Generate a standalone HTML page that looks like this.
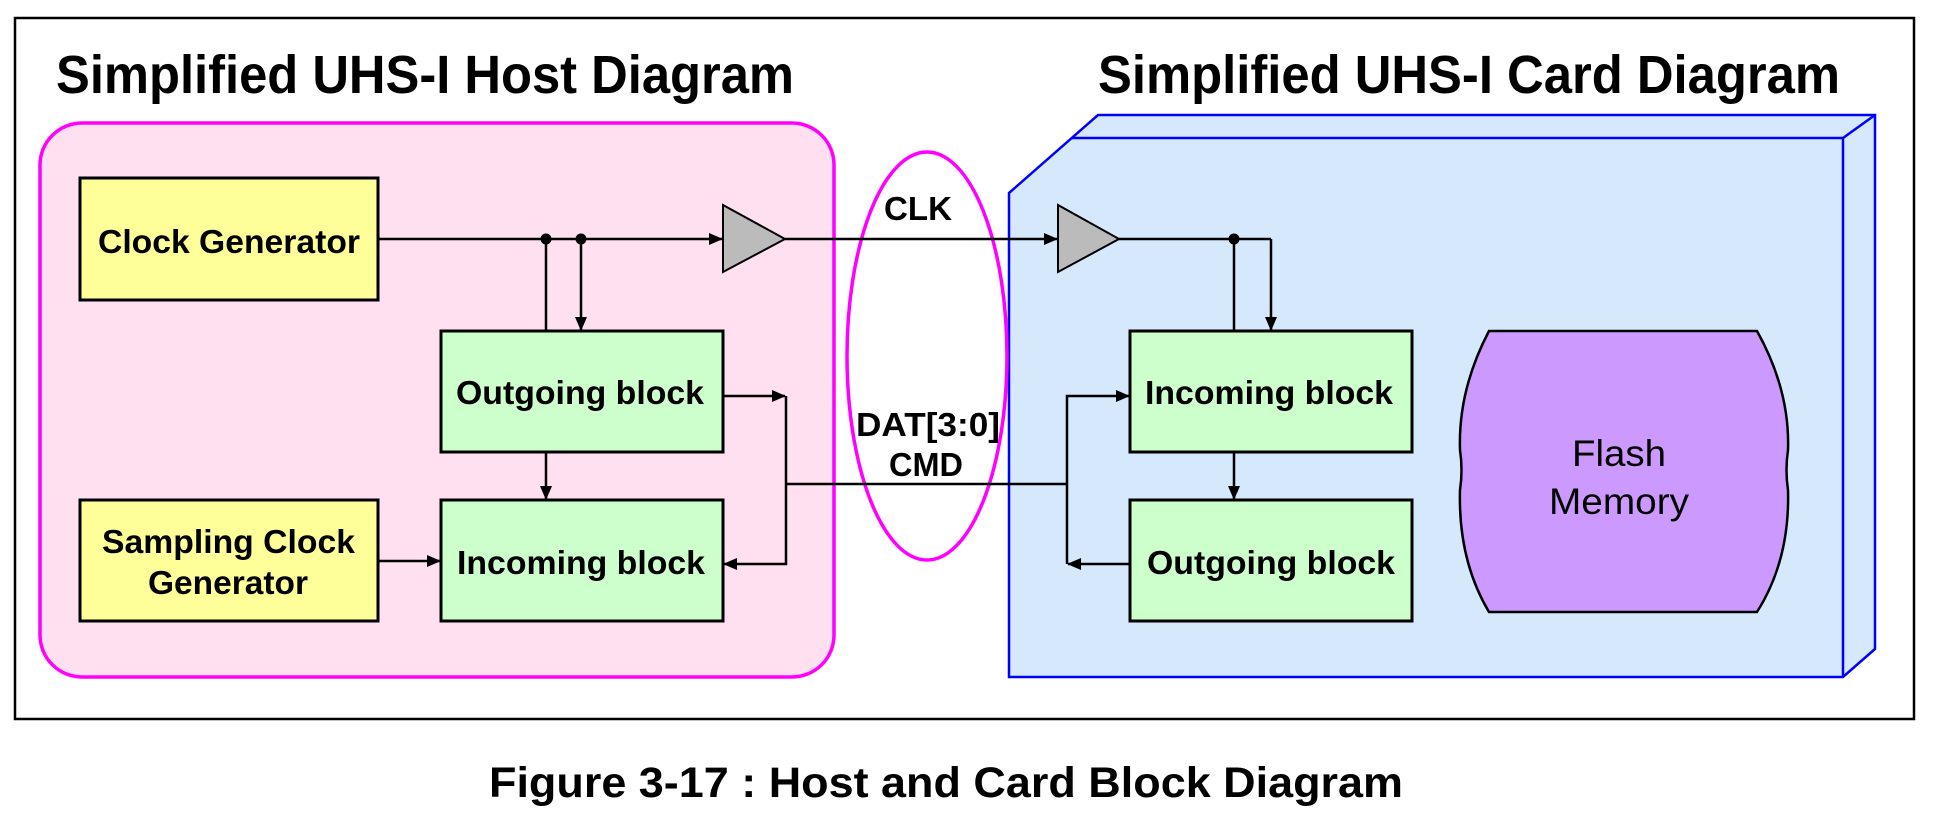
<!DOCTYPE html>
<html><head><meta charset="utf-8"><style>html,body{margin:0;padding:0;background:#fff}svg{display:block}</style></head>
<body>
<svg width="1954" height="818" viewBox="0 0 1954 818" xmlns="http://www.w3.org/2000/svg" font-family="Liberation Sans, Arial, sans-serif">
<defs>
<marker id="a" markerWidth="14" markerHeight="14" refX="13" refY="7" orient="auto" markerUnits="userSpaceOnUse"><path d="M0,1 L14,7 L0,13 z" fill="#000"/></marker>
</defs>
<rect x="15" y="18" width="1899" height="701" fill="#fff" stroke="#000" stroke-width="2.5"/>
<text x="56" y="93" font-size="54" font-weight="bold" textLength="738" lengthAdjust="spacingAndGlyphs">Simplified UHS-I Host Diagram</text>
<text x="1098" y="93" font-size="54" font-weight="bold" textLength="742" lengthAdjust="spacingAndGlyphs">Simplified UHS-I Card Diagram</text>
<rect x="40" y="123" width="794" height="554" rx="42" fill="#ffe0f0" stroke="#ff00ff" stroke-width="3.5"/>
<polygon points="1009,193 1098,115 1875,115 1875,649 1843,677 1009,677" fill="#d6e9fc" stroke="#0000ff" stroke-width="2.5"/>
<polyline points="1072,138 1843,138 1875,115" fill="none" stroke="#0000ff" stroke-width="2.5"/>
<line x1="1843" y1="138" x2="1843" y2="677" stroke="#0000ff" stroke-width="2.5"/>
<ellipse cx="927" cy="356" rx="80" ry="204" fill="none" stroke="#ff00ff" stroke-width="3.5"/>
<g stroke="#000" stroke-width="2.5" fill="none">
<line x1="378" y1="239" x2="722" y2="239" marker-end="url(#a)"/>
<line x1="546" y1="239" x2="546" y2="331"/>
<line x1="581" y1="239" x2="581" y2="330" marker-end="url(#a)"/>
<line x1="546" y1="452" x2="546" y2="499" marker-end="url(#a)"/>
<line x1="378" y1="561" x2="440" y2="561" marker-end="url(#a)"/>
<line x1="723" y1="396" x2="785" y2="396" marker-end="url(#a)"/>
<polyline points="786,396 786,564 724,564" marker-end="url(#a)"/>
<line x1="786" y1="484" x2="1067" y2="484"/>
<line x1="785" y1="239" x2="1057" y2="239" marker-end="url(#a)"/>
<line x1="1119" y1="239" x2="1271" y2="239"/>
<line x1="1234" y1="239" x2="1234" y2="331"/>
<line x1="1271" y1="239" x2="1271" y2="330" marker-end="url(#a)"/>
<line x1="1234" y1="452" x2="1234" y2="499" marker-end="url(#a)"/>
<polyline points="1067,564 1067,396 1129,396" marker-end="url(#a)"/>
<line x1="1130" y1="564" x2="1068" y2="564" marker-end="url(#a)"/>
</g>
<circle cx="546" cy="239" r="5.5"/><circle cx="581" cy="239" r="5.5"/><circle cx="1234" cy="239" r="5.5"/>
<polygon points="723,205 785,239 723,272" fill="#bbb" stroke="#000" stroke-width="2"/>
<polygon points="1058,205 1119,239 1058,272" fill="#bbb" stroke="#000" stroke-width="2"/>
<g stroke="#000" stroke-width="3">
<rect x="80" y="178" width="298" height="122" fill="#ffff99"/>
<rect x="80" y="500" width="298" height="121" fill="#ffff99"/>
<rect x="441" y="331" width="282" height="121" fill="#ccffcc"/>
<rect x="441" y="500" width="282" height="121" fill="#ccffcc"/>
<rect x="1130" y="331" width="282" height="121" fill="#ccffcc"/>
<rect x="1130" y="500" width="282" height="121" fill="#ccffcc"/>
</g>
<path d="M1489,331 L1757,331 Q1790,390 1788,450 Q1785,470 1788,490 Q1790,560 1757,612 L1489,612 Q1458,560 1460,490 Q1463,470 1460,450 Q1458,390 1489,331 Z" fill="#cc99ff" stroke="#000" stroke-width="2.5"/>
<g font-size="33" font-weight="bold">
<text x="98" y="253" textLength="262" lengthAdjust="spacingAndGlyphs">Clock Generator</text>
<text x="102" y="553" textLength="253" lengthAdjust="spacingAndGlyphs">Sampling Clock</text>
<text x="148" y="594" textLength="160" lengthAdjust="spacingAndGlyphs">Generator</text>
<text x="456" y="404" textLength="248" lengthAdjust="spacingAndGlyphs">Outgoing block</text>
<text x="457" y="574" textLength="248" lengthAdjust="spacingAndGlyphs">Incoming block</text>
<text x="1145" y="404" textLength="248" lengthAdjust="spacingAndGlyphs">Incoming block</text>
<text x="1147" y="574" textLength="248" lengthAdjust="spacingAndGlyphs">Outgoing block</text>
<text x="884" y="220" textLength="68" lengthAdjust="spacingAndGlyphs">CLK</text>
<text x="856" y="436" textLength="144" lengthAdjust="spacingAndGlyphs">DAT[3:0]</text>
<text x="889" y="476" textLength="74" lengthAdjust="spacingAndGlyphs">CMD</text>
</g>
<text x="1619" y="466" font-size="37" text-anchor="middle" textLength="94" lengthAdjust="spacingAndGlyphs">Flash</text>
<text x="1619" y="514" font-size="37" text-anchor="middle" textLength="140" lengthAdjust="spacingAndGlyphs">Memory</text>
<text x="489" y="797" font-size="43" font-weight="bold" textLength="914" lengthAdjust="spacingAndGlyphs">Figure 3-17 : Host and Card Block Diagram</text>
</svg>
</body></html>
